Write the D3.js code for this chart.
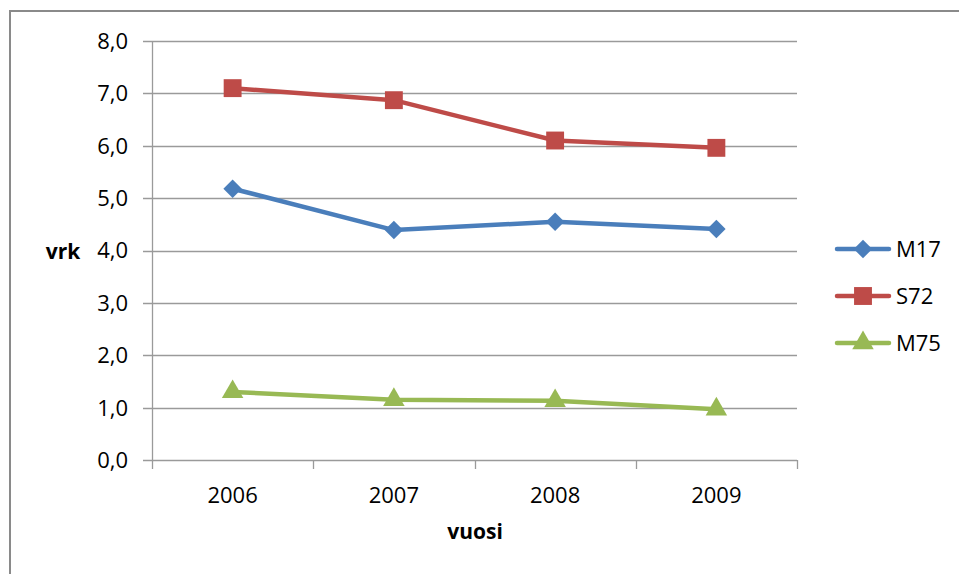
<!DOCTYPE html>
<html>
<head>
<meta charset="utf-8">
<script src="https://cdn.jsdelivr.net/npm/d3@7"></script>
<style>
  html, body { margin: 0; padding: 0; background: #fff; }
  svg { display: block; }
  text { font-family: "Open Sans", "Noto Sans", sans-serif; fill: #000; }
</style>
</head>
<body>
<svg id="chart" width="959" height="574"></svg>
<script>
// Hospital stay length (vrk) per year for three diagnosis groups
const years = ["2006", "2007", "2008", "2009"];
const m17 = [5.18, 4.39, 4.55, 4.41];
const s72 = [7.10, 6.87, 6.10, 5.96];
const m75 = [1.30, 1.15, 1.13, 0.97];
const yTicks = [0, 1, 2, 3, 4, 5, 6, 7, 8];

const series = [
  { name: "M17", values: m17, color: "#4A7EBB", symbol: d3.symbolSquare, size: 170, rotate: 45 },
  { name: "S72", values: s72, color: "#BE4B48", symbol: d3.symbolSquare, size: 320, rotate: 0 },
  { name: "M75", values: m75, color: "#98B954", symbol: d3.symbolTriangle, size: 200, rotate: 0 }
];

const svg = d3.select("#chart");
const plot = { left: 152, right: 797, top: 41, bottom: 460 };

const x = d3.scaleBand().domain(years).range([plot.left, plot.right]);
const y = d3.scaleLinear().domain([0, 8]).range([plot.bottom, plot.top]);

// Outer frame (top and left edges)
svg.append("path")
  .attr("d", `M10,574 L10,11 L959,11`)
  .attr("fill", "none")
  .attr("stroke", "#8a8a8a")
  .attr("stroke-width", 2);

// Horizontal gridlines
svg.append("g")
  .selectAll("line")
  .data(yTicks)
  .join("line")
  .attr("x1", plot.left - 9)
  .attr("x2", plot.right)
  .attr("y1", d => Math.round(y(d)) + 0.5)
  .attr("y2", d => Math.round(y(d)) + 0.5)
  .attr("stroke", "#9a9a9a")
  .attr("stroke-width", 1.3);

// Y axis line
svg.append("line")
  .attr("x1", plot.left + 0.5).attr("x2", plot.left + 0.5)
  .attr("y1", plot.top).attr("y2", plot.bottom)
  .attr("stroke", "#9a9a9a").attr("stroke-width", 1.3);

// X axis category ticks
const xTickPos = years.map(d => x(d)).concat([plot.right]);
svg.append("g")
  .selectAll("line")
  .data(xTickPos)
  .join("line")
  .attr("x1", d => Math.round(d) + 0.5)
  .attr("x2", d => Math.round(d) + 0.5)
  .attr("y1", plot.bottom)
  .attr("y2", plot.bottom + 9)
  .attr("stroke", "#9a9a9a")
  .attr("stroke-width", 1.3);

// Y tick labels
const fmt = d => d3.format(".1f")(d).replace(".", ",");
svg.append("g")
  .selectAll("text")
  .data(yTicks)
  .join("text")
  .attr("x", 128)
  .attr("y", d => y(d))
  .attr("dy", "0.36em")
  .attr("text-anchor", "end")
  .attr("font-size", 22)
  .text(fmt);

// X tick labels
svg.append("g")
  .selectAll("text")
  .data(years)
  .join("text")
  .attr("x", d => x(d) + x.bandwidth() / 2)
  .attr("y", 495)
  .attr("dy", "0.36em")
  .attr("text-anchor", "middle")
  .attr("font-size", 22)
  .text(d => d);

// Axis titles
svg.append("text")
  .attr("x", 63).attr("y", 251).attr("dy", "0.36em")
  .attr("text-anchor", "middle")
  .attr("font-size", 21).attr("font-weight", "bold")
  .text("vrk");
svg.append("text")
  .attr("x", 475).attr("y", 531).attr("dy", "0.36em")
  .attr("text-anchor", "middle")
  .attr("font-size", 21).attr("font-weight", "bold")
  .text("vuosi");

// Lines and markers
const cx = d => x(d) + x.bandwidth() / 2;
const line = d3.line().x(d => cx(d.year)).y(d => y(d.value));

series.forEach(s => {
  const pts = years.map((yr, i) => ({ year: yr, value: s.values[i] }));
  const g = svg.append("g");
  g.append("path")
    .datum(pts)
    .attr("d", line)
    .attr("fill", "none")
    .attr("stroke", s.color)
    .attr("stroke-width", 4.5)
    .attr("stroke-linejoin", "round")
    .attr("stroke-linecap", "round");
  g.selectAll("path.mk")
    .data(pts)
    .join("path")
    .attr("class", "mk")
    .attr("transform", d => `translate(${cx(d.year)},${y(d.value)}) rotate(${s.rotate})`)
    .attr("d", d3.symbol().type(s.symbol).size(s.size))
    .attr("fill", s.color);
});

// Legend
const legend = svg.append("g");
series.forEach((s, i) => {
  const ly = 249 + i * 47;
  const g = legend.append("g").attr("transform", `translate(0,${ly})`);
  g.append("line")
    .attr("x1", 837).attr("x2", 889)
    .attr("stroke", s.color).attr("stroke-width", 4.5)
    .attr("stroke-linecap", "round");
  g.append("path")
    .attr("transform", `translate(863,0) rotate(${s.rotate})`)
    .attr("d", d3.symbol().type(s.symbol).size(s.size))
    .attr("fill", s.color);
  g.append("text")
    .attr("x", 896).attr("y", 0).attr("dy", "0.36em")
    .attr("font-size", 22)
    .text(s.name);
});
</script>
</body>
</html>
